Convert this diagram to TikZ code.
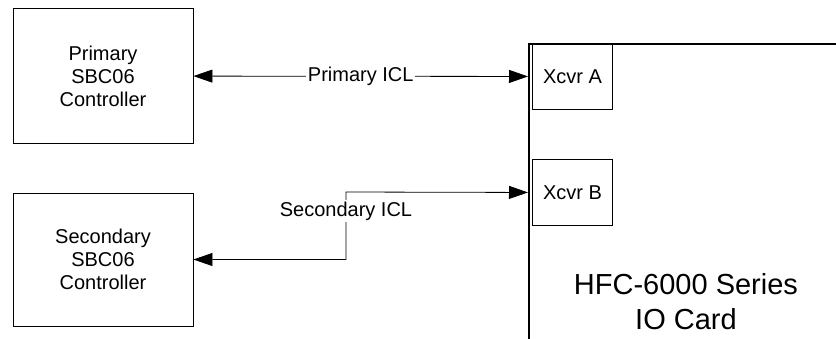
\documentclass[tikz,border=0pt]{standalone}
\usepackage{fontspec}
\setmainfont{Liberation Sans}
\usetikzlibrary{arrows.meta}

\begin{document}
\begin{tikzpicture}[x=1pt, y=-1pt,
    unit/.style={rectangle, draw, line width=0.9pt, align=center,
      font=\fontsize{20}{23}\selectfont, inner sep=0pt},
    ctrl/.style={unit, minimum width=180pt, minimum height=135pt},
    xcvr/.style={unit, anchor=north west, minimum width=80pt,
      minimum height=66pt},
    card/.style={rectangle, draw, line width=2pt, anchor=north west,
      minimum width=400pt, minimum height=400pt},
    link/.style={fill=white, inner sep=1.5pt,
      font=\fontsize{20}{23}\selectfont}]
    \useasboundingbox (0,0) rectangle (836,338);
    \clip (0,0) rectangle (836,338);

    \node [card] (card) at (528,43) {};
    \node [ctrl] (pri) at (103,76) {Primary\\SBC06\\Controller};
    \node [ctrl, minimum height=133pt] (sec) at (103,259.5)
    {Secondary\\SBC06\\Controller};
    \node [xcvr] (xa) at (532,43) {Xcvr A}; \node [xcvr] (xb) at
    (532,159) {Xcvr B};
    \node [align=center, font=\fontsize{29}{35}\selectfont] (title) at
    (686,302) {HFC-6000 Series\\IO Card};

    \coordinate (jog) at (346,192);
    \begin{scope}[>={Triangle[length=19pt,width=13pt]}, <->, line
      width=0.8pt]
      \draw (pri) to node [link] (priicl) {Primary ICL} (xa.west -|
      card.west); \draw (sec) -| (jog) -- (xb.west -| card.west);
    \end{scope}
    \node [link] (secicl) at (346,211) {Secondary ICL};
\end{tikzpicture}
\end{document}
